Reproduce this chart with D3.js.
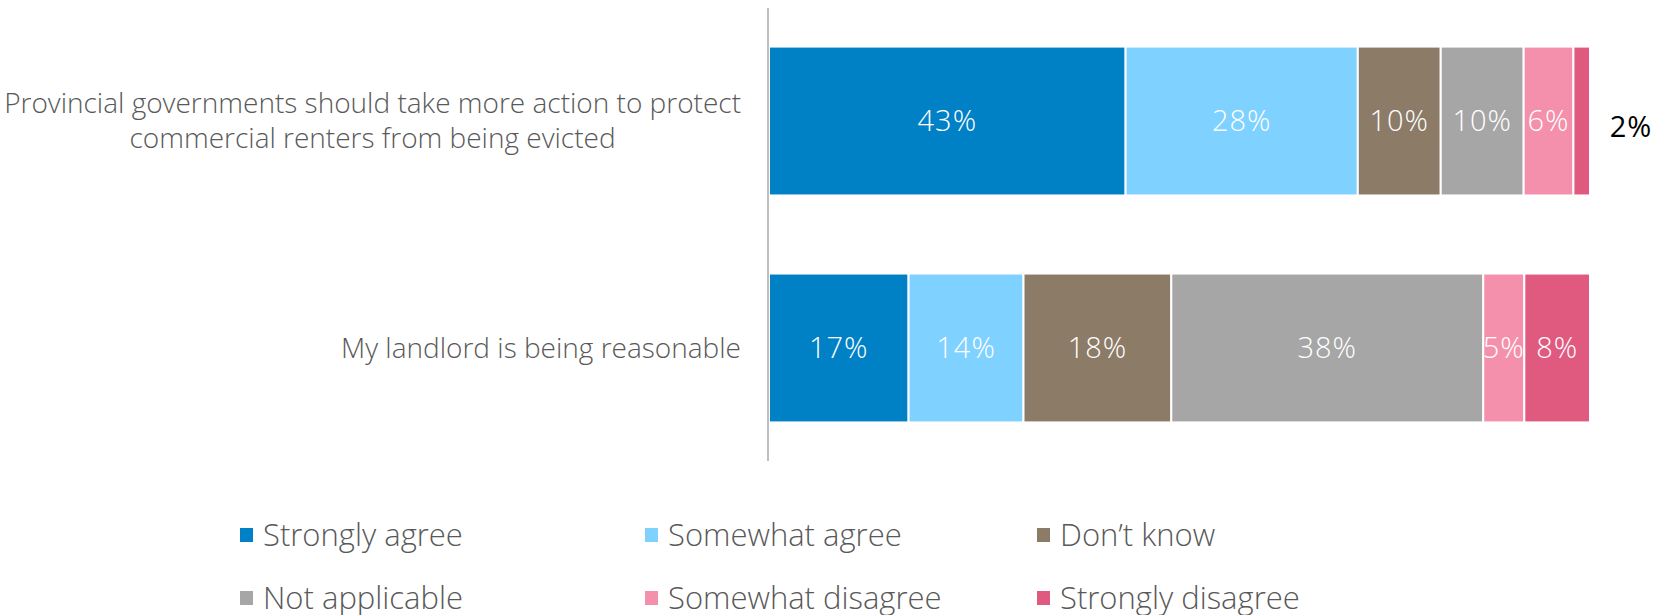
<html lang="en">
<head>
<style>
body { margin: 0; background: #fff; }
text { font-family: "Open Sans", "Noto Sans", sans-serif; font-weight: 300; }
</style>
</head>
<body>
</body>
<script type='text/javascript' src='https://d3js.org/d3.v7.min.js'></script>
<script>
var width = 1668, height = 615;

// data
const categories = [
  ['Provincial governments should take more action to protect', 'commercial renters from being evicted'],
  ['My landlord is being reasonable']
];
const seriesNames = ['Strongly agree', 'Somewhat agree', "Don\u2019t know", 'Not applicable', 'Somewhat disagree', 'Strongly disagree'];
const seriesColors = ['#0081c6', '#7fd1ff', '#8b7b67', '#a6a6a6', '#f490ab', '#e05a80'];
const stronglyAgree    = [43, 17];
const somewhatAgree    = [28, 14];
const dontKnow         = [10, 18];
const notApplicable    = [10, 38];
const somewhatDisagree = [6, 5];
const stronglyDisagree = [2, 8];

const series = [stronglyAgree, somewhatAgree, dontKnow, notApplicable, somewhatDisagree, stronglyDisagree];
const rows = categories.map(function(c, i) {
  var r = {key: i};
  seriesNames.forEach(function(s, j) { r[s] = series[j][i]; });
  return r;
});

var svg = d3.select('body').append('svg').attr('width', width).attr('height', height);

var x = d3.scaleLinear().domain([0, 1]).range([769, 1590]);
var y = d3.scaleBand().domain(d3.range(categories.length)).range([8, 461])
  .paddingInner(0.344).paddingOuter(0.17);

var stack = d3.stack().keys(seriesNames).offset(d3.stackOffsetExpand);
var layers = stack(rows);

var g = svg.selectAll('g.layer').data(layers).join('g')
  .attr('class', 'layer')
  .attr('fill', function(d, i) { return seriesColors[i]; });

g.selectAll('rect').data(function(d) { return d; }).join('rect')
  .attr('x', function(d) { return x(d[0]); })
  .attr('y', function(d, i) { return y(i); })
  .attr('width', function(d) { return x(d[1]) - x(d[0]); })
  .attr('height', y.bandwidth())
  .attr('stroke', '#fff')
  .attr('stroke-width', 2);

// value labels (tiny segments get an outside label)
layers.forEach(function(layer, si) {
  layer.forEach(function(d, i) {
    var v = series[si][i];
    var w = x(d[1]) - x(d[0]);
    var cx = (x(d[0]) + x(d[1])) / 2;
    var cy = y(i) + y.bandwidth() / 2;
    var outside = w < 25;
    svg.append('text')
      .attr('x', outside ? x(d[1]) + 41 : cx)
      .attr('y', outside ? cy + 6 : cy)
      .attr('dy', '0.35em')
      .attr('text-anchor', 'middle')
      .attr('fill', outside ? '#000' : '#fff')
      .style('font-size', '29px')
      .style('font-weight', outside ? 400 : 300)
      .style('letter-spacing', '1px')
      .text(v + '%');
  });
});

// axis line
svg.append('line')
  .attr('x1', 768).attr('x2', 768)
  .attr('y1', 8).attr('y2', 461)
  .attr('stroke', '#bfbfbf').attr('stroke-width', 2);

// category labels
categories.forEach(function(lines, i) {
  var cy = y(i) + y.bandwidth() / 2;
  var lh = 35;
  var t = svg.append('text')
    .attr('text-anchor', 'middle')
    .attr('fill', '#595959')
    .style('font-size', '28px');
  lines.forEach(function(l, k) {
    t.append('tspan')
      .attr('x', 0)
      .attr('y', cy + (k - (lines.length - 1) / 2) * lh)
      .attr('dy', '0.35em')
      .text(l);
  });
  // right-align the block at x=741, lines centred within it
  var bw = t.node().getBBox().width;
  t.selectAll('tspan').attr('x', 741 - bw / 2);
});

// legend
var legendX = [240, 645, 1037];
var legendY = [535, 598];
seriesNames.forEach(function(s, i) {
  var lx = legendX[i % 3], ly = legendY[Math.floor(i / 3)];
  svg.append('rect')
    .attr('x', lx).attr('y', ly - 7)
    .attr('width', 13).attr('height', 14)
    .attr('fill', seriesColors[i]);
  svg.append('text')
    .attr('x', lx + 23).attr('y', ly)
    .attr('dy', '0.35em')
    .attr('fill', '#595959')
    .style('font-size', '31px')
    .text(s);
});
</script>
</html>
